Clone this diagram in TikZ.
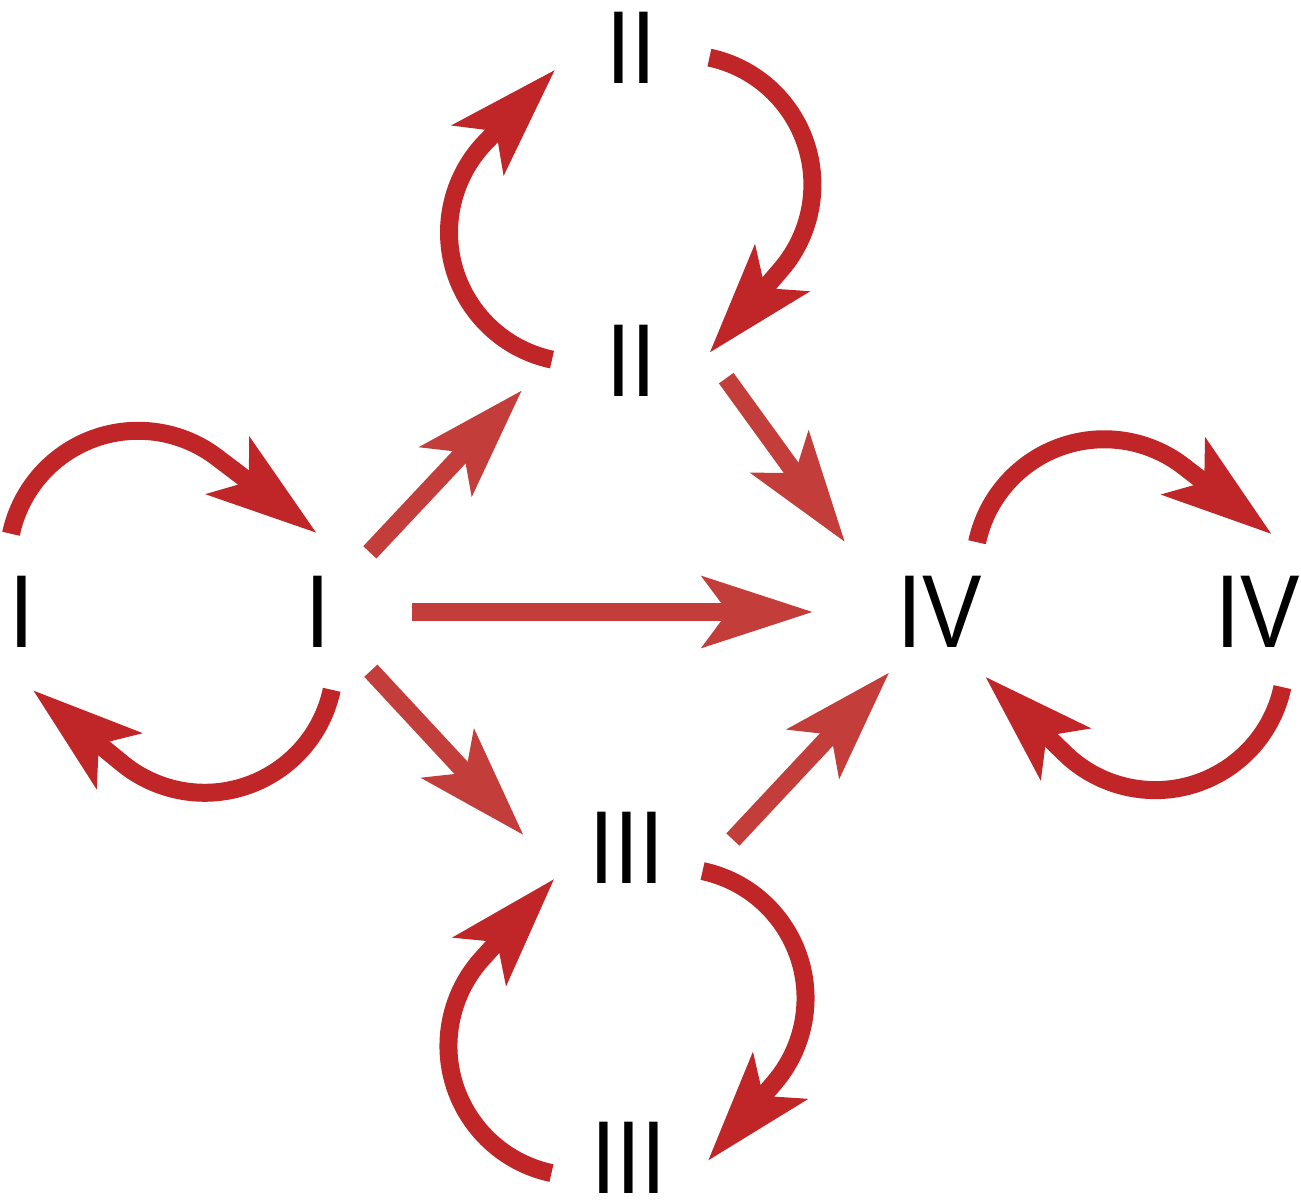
\documentclass[tikz,border=0pt]{standalone}
\usepackage{fontspec}
\setmainfont{Liberation Sans}[FakeStretch=0.86]
\usepackage{xcolor}
\usepackage{tikz}
\usetikzlibrary{
    arrows.meta,
    bending
}

\definecolor{loopred}{RGB}{192,38,40}
\definecolor{linkred}{RGB}{195,62,58}

\begin{document}
\begin{tikzpicture}[>={Stealth[length=1.1cm, width=0.7cm, inset=0.25cm, flex]}, line width=0.18cm]
    \tikzstyle{every node}=[circle, minimum size=1.4cm, inner sep=0pt, font=\fontsize{29.5}{32}\selectfont]
    \tikzstyle{roundarr}=[->, draw=loopred, line join=round]
    \tikzstyle{flatarr}=[->, draw=linkred]
    \useasboundingbox (0, 0) rectangle (13.01, 12.01);

    \node (Ia) at (0.22, 5.89) {I};
    \node (Ib) at (3.18, 5.89) {I};

    \node (IIa) at (6.31, 11.53) {II};
    \node (IIb) at (6.31, 8.40) {II};

    \node (IIIa) at (6.27, 3.53) {III};
    \node (IIIb) at (6.29, 0.43) {III};

    \node (IVa) at (9.40, 5.89) {IV};
    \node (IVb) at (12.58, 5.89) {IV};

    % loops
    \draw [roundarr] (Ia.98) arc [start angle=168, end angle=53, radius=1.3cm] -- (Ib.91);
    \draw [roundarr] (Ib.280) arc [start angle=348, end angle=230, radius=1.3cm] -- (Ia.278);

    \draw [roundarr] (IIb.179) arc [start angle=258, end angle=137, radius=1.3cm] -- (IIa.196);
    \draw [roundarr] (IIa.-7) arc [start angle=78, end angle=-40, radius=1.3cm] -- (IIb.6);

    \draw [roundarr] (IIIa.-17) arc [start angle=78, end angle=-40, radius=1.3cm] -- (IIIb.-2);
    \draw [roundarr] (IIIb.191) arc [start angle=258, end angle=138, radius=1.3cm] -- (IIIa.203);

    \draw [roundarr] (IVa.62) arc [start angle=168, end angle=53, radius=1.3cm] -- (IVb.80);
    \draw [roundarr] (IVb.288) arc [start angle=348, end angle=228, radius=1.3cm] -- (IVa.305);

    % links
    \draw [flatarr, shorten >=0.44cm] (Ib.49) -- (IIb.178);
    \draw [flatarr, shorten <=0.15cm, shorten >=0.48cm] (Ib.east) -- (IVa.west);
    \draw [flatarr, shorten >=0.38cm] (Ib.-48) -- (IIIa.191);
    \draw [flatarr, shorten <=0.28cm, shorten >=0.42cm] (IIb.4) -- (IVa.153);
    \draw [flatarr, shorten <=0.45cm] (IIIa.-18) -- (IVa.230);
\end{tikzpicture}
\end{document}
